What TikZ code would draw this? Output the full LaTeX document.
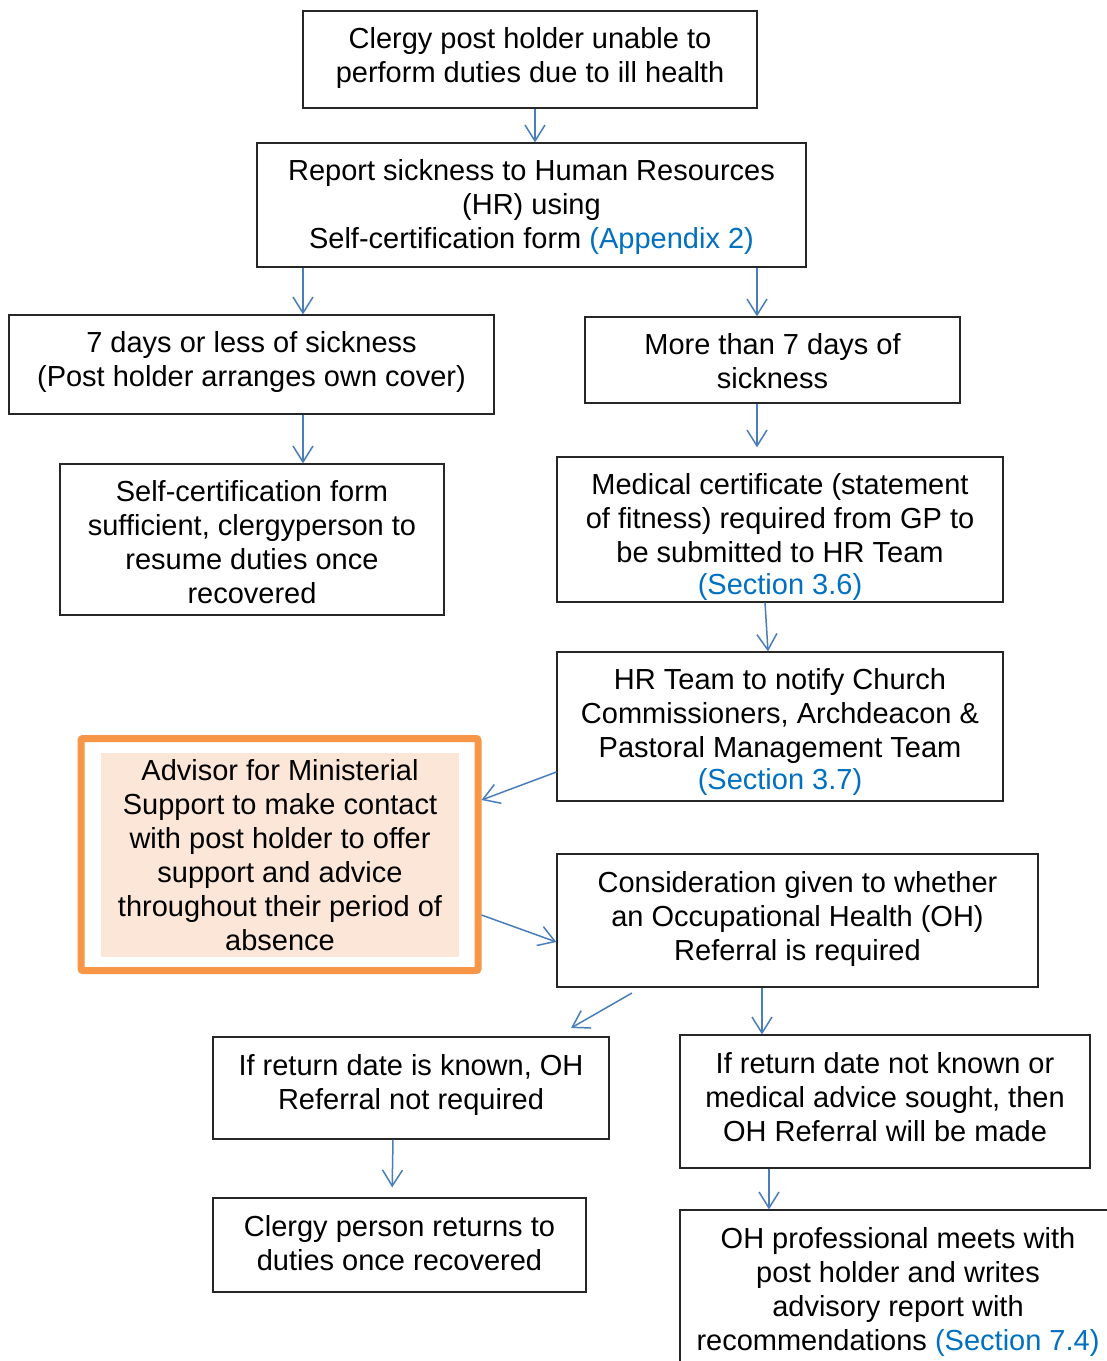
\documentclass[tikz,border=0pt]{standalone}
\usepackage{fontspec}
\setmainfont{Liberation Sans}
\usetikzlibrary{arrows.meta}
\definecolor{arrblue}{RGB}{74,126,187}
\definecolor{linkblue}{RGB}{0,112,192}
\definecolor{orng}{RGB}{247,150,70}
\definecolor{peach}{RGB}{252,230,215}
\tikzset{
 box/.style={draw=black!85, line width=1.2pt, inner sep=0pt, font=\fontsize{29}{34}\selectfont},
 arr/.style={draw=arrblue, line width=1.5pt, -{Straight Barb[length=16pt,width=20pt]}},
}
\newcommand{\lnk}[1]{\textcolor{linkblue}{#1}}
% #1: offset (px, downward) of the first line's centre from the box centre
\newcommand{\tx}[2]{\raisebox{\dimexpr-#1pt-10.6pt\relax}[0pt][0pt]{\begin{tabular}[t]{@{}c@{}}#2\end{tabular}}}
\begin{document}
\begin{tikzpicture}[x=1pt,y=-1pt]
\useasboundingbox (0,0) rectangle (1107,1361);
\clip (0,0) rectangle (1107,1361);
\fill[white] (0,0) rectangle (1107,1361);
\node[box, minimum width=454pt, minimum height=97pt] (n1) at (530,59.5) {\tx{-21.5}{Clergy post holder unable to\\perform duties due to ill health}};
\node[box, minimum width=549pt, minimum height=124pt] (n2) at (531.5,205) {\tx{-35}{Report sickness to Human Resources\\(HR) using\\Self-certification form \lnk{(Appendix 2)}}};
\node[box, minimum width=485pt, minimum height=99pt] (n3) at (251.5,364.5) {\tx{-22.5}{7 days or less of sickness\\(Post holder arranges own cover)}};
\node[box, minimum width=375pt, minimum height=86pt] (n4) at (772.5,360) {\tx{-16}{More than 7 days of\\sickness}};
\node[box, minimum width=384pt, minimum height=151pt] (n5) at (252,539.5) {\tx{-48.5}{Self-certification form\\sufficient, clergyperson to\\resume duties once\\recovered}};
\node[box, minimum width=446pt, minimum height=145pt] (n6) at (780,529.5) {\tx{-45.5}{Medical certificate (statement\\of fitness) required from GP to\\be submitted to HR Team\\[-2pt]\lnk{(Section 3.6)}}};
\node[box, minimum width=446pt, minimum height=149pt] (n7) at (780,726.5) {\tx{-47.5}{HR Team to notify Church\\Commissioners, Archdeacon \&\\Pastoral Management Team\\[-2pt]\lnk{(Section 3.7)}}};
\node[draw=orng, line width=7pt, rounded corners=2pt, minimum width=397pt, minimum height=232pt, inner sep=0pt] (n8o) at (279.5,854.5) {};
\node[box, draw=none, fill=peach, minimum width=358pt, minimum height=204pt] (n8) at (280,855) {\tx{-85}{Advisor for Ministerial\\Support to make contact\\with post holder to offer\\support and advice\\throughout their period of\\absence}};
\node[box, minimum width=481pt, minimum height=133pt] (n9) at (797.5,920.5) {\tx{-38.5}{Consideration given to whether\\an Occupational Health (OH)\\Referral is required}};
\node[box, minimum width=396pt, minimum height=102pt] (n10) at (411,1088) {\tx{-23}{If return date is known, OH\\Referral not required}};
\node[box, minimum width=410pt, minimum height=133pt] (n11) at (885,1101.5) {\tx{-38.5}{If return date not known or\\medical advice sought, then\\OH Referral will be made}};
\node[box, minimum width=373pt, minimum height=94pt] (n12) at (399.5,1245) {\tx{-19}{Clergy person returns to\\duties once recovered}};
\node[box, minimum width=436pt, minimum height=158pt] (n13) at (898,1289) {\tx{-51}{OH professional meets with\\post holder and writes\\advisory report with\\recommendations \lnk{(Section 7.4)}}};
\coordinate (c9a) at (632,993);
\coordinate (c9b) at (571,1028);
\draw[arr] (n1.south -| 535,0) -- (n2.north -| 535,0);
\draw[arr] (n2.south -| 303,0) -- (n3.north -| 303,0);
\draw[arr] (n2.south -| 757,0) -- (n4.north -| 757,0);
\draw[arr] (n3.south -| 303,0) -- (n5.north -| 303,0);
\draw[arr, shorten >=9pt] (n4.south -| 757,0) -- (n6.north -| 757,0);
\draw[arr] (n6.south -| 765,0) -- (n7.north -| 768,0);
\draw[arr] (n7.west |- 0,772) -- (n8o.east |- 0,800);
\draw[arr] (n8o.east |- 0,915) -- (n9.west |- 0,942);
\draw[arr] (c9a) -- (c9b);
\draw[arr] (n9.south -| 762,0) -- (n11.north -| 762,0);
\draw[arr, shorten >=10pt] (n10.south -| 393,0) -- (n12.north -| 392,0);
\draw[arr] (n11.south -| 769,0) -- (n13.north -| 769,0);
\end{tikzpicture}
\end{document}
